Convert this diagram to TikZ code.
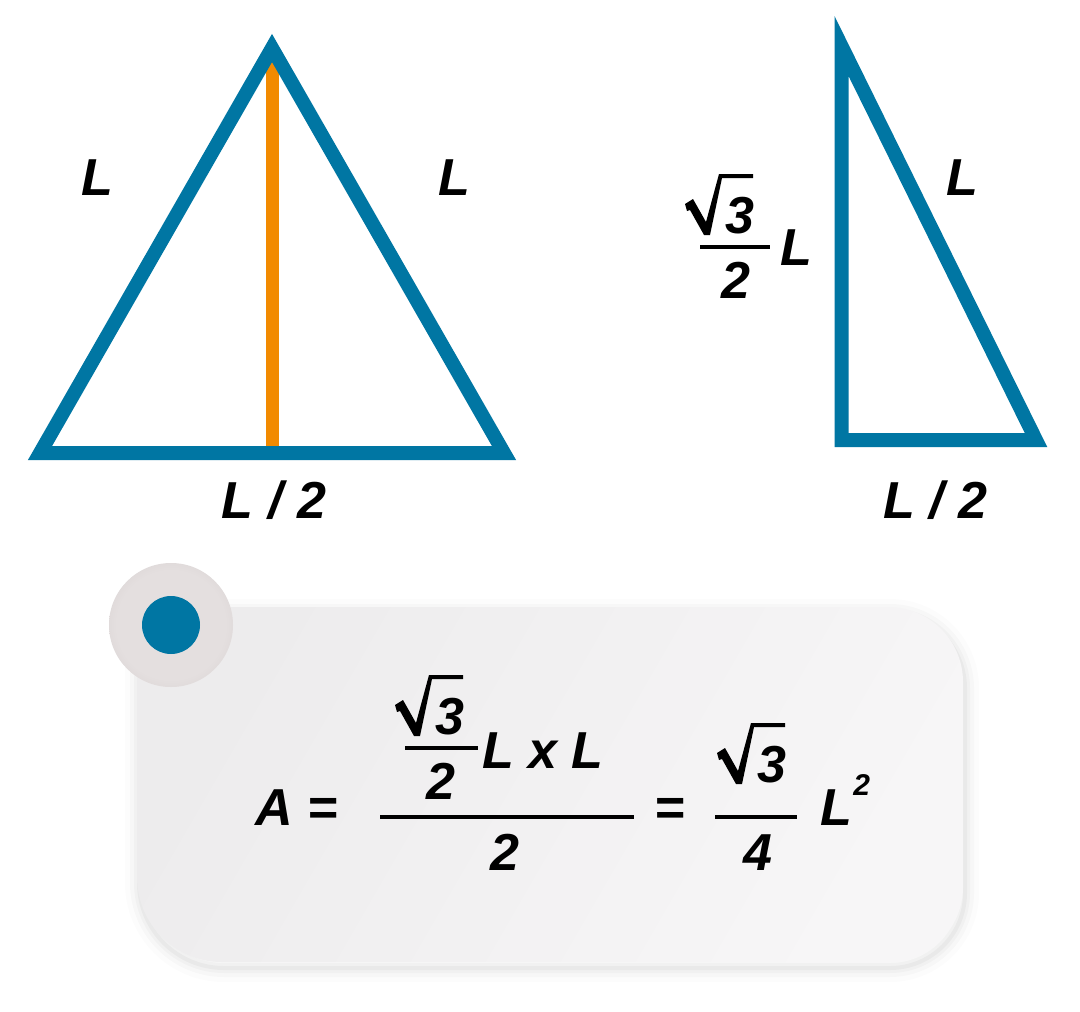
\documentclass[tikz,border=0pt]{standalone}
\usepackage{fontspec}
\setmainfont{Liberation Sans}
\definecolor{tblue}{HTML}{0076A3}
\definecolor{torange}{HTML}{F28A00}
\definecolor{cardA}{HTML}{EDECED}
\definecolor{cardB}{HTML}{F7F6F7}
\definecolor{bulA}{HTML}{E4DFDF}
\definecolor{bulB}{HTML}{BAB0B0}
\pgfdeclareradialshading{bulletsh}{\pgfpoint{0bp}{0bp}}{color(0bp)=(bulA); color(22bp)=(bulA); color(42bp)=(bulB!55!bulA); color(50bp)=(bulB)}
\newcommand\cardpath[1]{\path[#1] (137,607) -- (888,607) arc[start angle=-90,end angle=0,radius=75] -- (963,887) arc[start angle=0,end angle=90,radius=75] -- (222,962) arc[start angle=90,end angle=180,radius=85] -- cycle;}
\tikzset{
  tri/.style={draw=tblue, line width=7pt, line join=miter},
  alt/.style={draw=torange, line width=6.5pt},
  lbl/.style={font=\fontsize{26}{30}\selectfont\bfseries\itshape, inner sep=0pt, anchor=base},
  sup/.style={font=\fontsize{15}{17}\selectfont\bfseries\itshape, inner sep=0pt, anchor=base west},
  bar/.style={line width=2pt},
  radical/.pic={\fill (-22,-31) -- (-14,-36) -- (-1,-13) -- (12,-61) -- (46,-61) -- (46,-57) -- (15,-57) -- (3,0) -- (-3,0) -- (-17,-25) -- (-20,-24) -- cycle;}
}
\begin{document}
\begin{tikzpicture}[x=0.5pt,y=-0.5pt]
\useasboundingbox[fill=white] (0,0) rectangle (1080,1011);
% triangles
\coordinate (h1) at (272,62);
\coordinate (h2) at (272,450);
\draw[alt] (h1) -- (h2);
\coordinate (A) at (272,48);
\coordinate (B) at (504,453);
\coordinate (C) at (40,453);
\draw[tri] (A) -- (B) -- (C) -- cycle;
\coordinate (P) at (841.5,46);
\coordinate (Q) at (1036,440);
\coordinate (R) at (841.5,440);
\draw[tri] (P) -- (Q) -- (R) -- cycle;
% labels
\node[lbl] (l1) at (97,195) {L};
\node[lbl] (l2) at (454,195) {L};
\node[lbl] (l3) at (274,518) {L / 2};
\node[lbl] (l4) at (962,195) {L};
\node[lbl] (l5) at (935,518) {L / 2};
\pic at (707,235) {radical};
\node[lbl, anchor=base west] (r3) at (725,233) {3};
\draw[bar] (700,247) -- (770,247);
\node[lbl] (r2) at (736,298) {2};
\node[lbl] (rL) at (796,265) {L};
% card shadow
\foreach \w/\o in {14/0.012,9/0.018,5/0.025,2/0.03}{\cardpath{draw=black, line width=\w, opacity=\o, shift={(2,6)}}}
\cardpath{shade, left color=cardA, right color=cardB, shading angle=60}
% bullet
\shade[shading=bulletsh] (171,625) circle[radius=62];
\fill[tblue] (171,625) circle[radius=29];
% formula
\node[lbl, anchor=base west] (fA) at (255,825) {A =};
\draw[bar] (380,817) -- (634,817);
\pic at (417,736) {radical};
\node[lbl, anchor=base west] (n3) at (435,734) {3};
\draw[bar] (405,748) -- (478,748);
\node[lbl] (n2) at (441,799) {2};
\node[lbl, anchor=base west] (nL) at (482,768) {L x L};
\node[lbl] (d2) at (505,870) {2};
\node[lbl] (eq2) at (670,825) {=};
\pic at (739,784) {radical};
\node[lbl, anchor=base west] (m3) at (757,782) {3};
\draw[bar] (715,817) -- (797,817);
\node[lbl] (m4) at (758,870) {4};
\node[lbl, anchor=base west] (fL) at (820,825) {L};
\node[sup] (fs) at (853,795) {2};
\end{tikzpicture}
\end{document}
